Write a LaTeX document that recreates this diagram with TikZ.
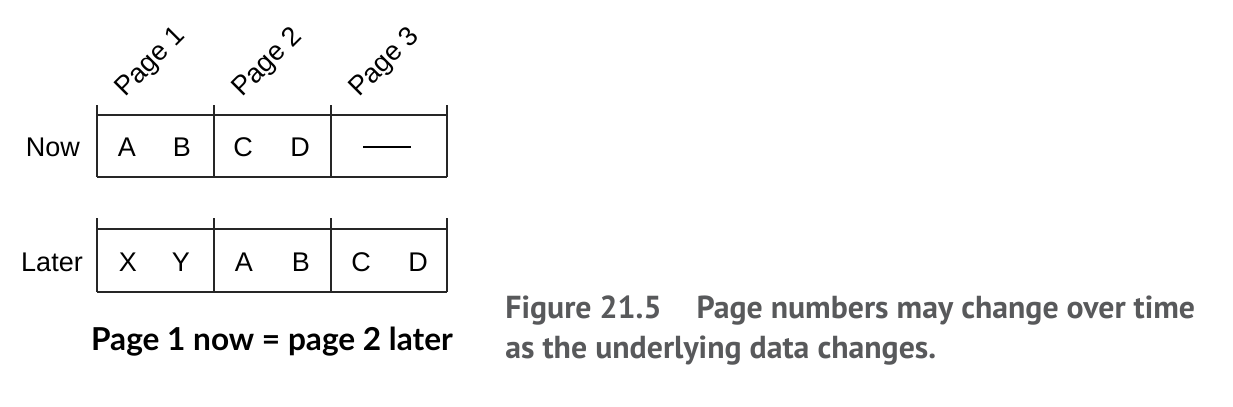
\documentclass[tikz,border=0pt]{standalone}
\usepackage{fontspec}
\setmainfont{Liberation Sans}
\newfontfamily\notefont{Lato}
\newfontfamily\capfont{PT Sans}
\usetikzlibrary{positioning}
\definecolor{capgray}{RGB}{88,89,91}

\begin{document}
\begin{tikzpicture}[
    x=0.5pt, y=-0.5pt,
    cell/.style={font=\fontsize{13.5}{16}\selectfont, inner sep=0pt},
    rowlabel/.style={font=\fontsize{13.5}{16}\selectfont, inner sep=0pt},
    pagelabel/.style={rotate=45, font=\fontsize{13.5}{16}\selectfont, inner sep=0pt},
    gridline/.style={line width=1pt, black!85},
    caption/.style={font=\capfont\bfseries\fontsize{15.9}{20}\selectfont, text=capgray, inner sep=0pt, anchor=base west}
]
\useasboundingbox (0,0) rectangle (1233,407);

% page headings
\node[pagelabel] (page1) at (151,63) {Page 1};
\node[pagelabel] (page2) at (268,63) {Page 2};
\node[pagelabel] (page3) at (385,63) {Page 3};

% grid: now
\foreach \x in {97,214,331,447}
    \draw[gridline] (\x,105) -- (\x,177);
\draw[gridline] (97,115) -- (447,115);
\draw[gridline] (97,177) -- (447,177);

% grid: later
\foreach \x in {97,214,331,447}
    \draw[gridline] (\x,218) -- (\x,292);
\draw[gridline] (97,229) -- (447,229);
\draw[gridline] (97,292) -- (447,292);

% row now
\node[rowlabel] (now) at (53,147) {Now};
\node[cell] (nowA) at (127,147) {A};
\node[cell] (nowB) at (182,147) {B};
\node[cell] (nowC) at (243,147) {C};
\node[cell] (nowD) at (300,147) {D};
\node[cell] (nowE) at (387,147) {\rule{24pt}{0.6pt}};

% row later
\node[rowlabel] (later) at (52,262) {Later};
\node[cell] (laterX) at (128,262) {X};
\node[cell] (laterY) at (181,262) {Y};
\node[cell] (laterA) at (244,262) {A};
\node[cell] (laterB) at (301,262) {B};
\node[cell] (laterC) at (361,262) {C};
\node[cell] (laterD) at (418,262) {D};

% note
\node[inner sep=0pt, anchor=base, font=\notefont\bfseries\fontsize{15.8}{18}\selectfont] (note) at (272,350) {Page 1 now = page 2 later};

% caption
\node[caption] (cap1) at (505,318) {Figure 21.5\hspace{1.1em}Page numbers may change over time};
\node[caption] (cap2) at (505,358) {as the underlying data changes.};

\end{tikzpicture}
\end{document}
